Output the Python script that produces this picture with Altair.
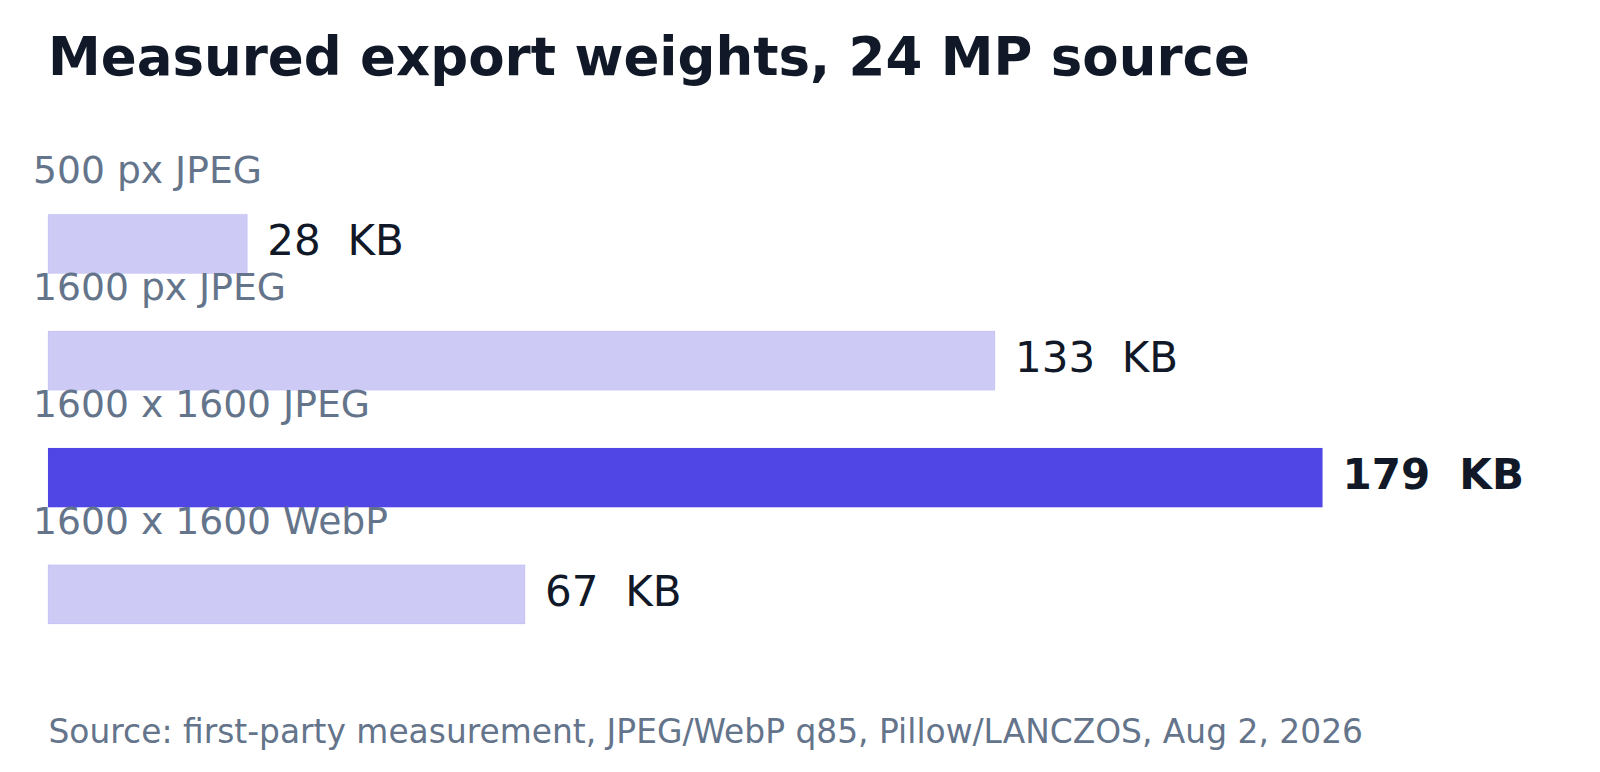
import altair as alt
import pandas as pd

# export sizes
formats = ['500 px JPEG', '1600 px JPEG', '1600 x 1600 JPEG', '1600 x 1600 WebP']
sizes_kb = [28, 133, 179, 67]
highlight = [0, 0, 1, 0]

df = pd.DataFrame({'format': formats, 'kb': sizes_kb, 'hl': highlight})
df['label'] = df['kb'].astype(str) + '\u00a0\u00a0KB'

font = 'DejaVu Sans'
ink = '#111827'
muted = '#64748B'

y_enc = alt.Y('format:N', sort=formats, title=None, axis=None,
              scale=alt.Scale(paddingInner=0.493, paddingOuter=0.2465))
x_scale = alt.Scale(domain=[0, 179], nice=False, zero=True)

base = alt.Chart(df)

bars = base.mark_bar(strokeWidth=1, strokeOpacity=0.08, stroke='#4F46E5').encode(
    x=alt.X('kb:Q', scale=x_scale,
            axis=alt.Axis(labels=False, ticks=False, domain=False, grid=False,
                          title='Source: first-party measurement, JPEG/WebP q85, Pillow/LANCZOS, Aug 2, 2026',
                          titleFont=font, titleFontSize=32.9, titleFontWeight='normal',
                          titleColor=muted, titleAnchor='start', titleAlign='left',
                          titleBaseline='alphabetic', titleX=0, titleY=90)),
    y=y_enc,
    color=alt.Color('hl:N', legend=None,
                    scale=alt.Scale(domain=[0, 1], range=['#CDCAF6', '#4F46E5'])),
)

values = base.mark_text(align='left', baseline='middle', dx=20, dy=-1.5, font=font,
                        fontSize=42, color=ink).encode(
    x=alt.X('kb:Q', scale=x_scale),
    y=y_enc,
    text='label:N',
).transform_filter('datum.hl == 0')

values_hl = base.mark_text(align='left', baseline='middle', dx=20, dy=-1.5, font=font,
                           fontSize=42, fontWeight='bold', color=ink).encode(
    x=alt.X('kb:Q', scale=x_scale),
    y=y_enc,
    text='label:N',
).transform_filter('datum.hl == 1')

cats = base.mark_text(align='left', baseline='alphabetic', dx=-15, dy=-60.5,
                      font=font, fontSize=37.7, color=muted).encode(
    x=alt.datum(0, scale=x_scale),
    y=y_enc,
    text='format:N',
)

chart = alt.layer(bars, values, values_hl, cats).properties(
    width=1274.5, height=467.3,
    autosize=alt.AutoSizeParams(type='none'),
    padding={'left': 40, 'top': 177.5, 'right': 260, 'bottom': 105},
    title=alt.TitleParams('Measured export weights, 24 MP source', anchor='start',
                          frame='group', font=font, fontSize=53, fontWeight='bold',
                          color=ink, baseline='alphabetic', offset=25.5),
).configure_view(strokeWidth=0)

chart.save('out.html', embed_options={'renderer': 'svg', 'actions': False})
